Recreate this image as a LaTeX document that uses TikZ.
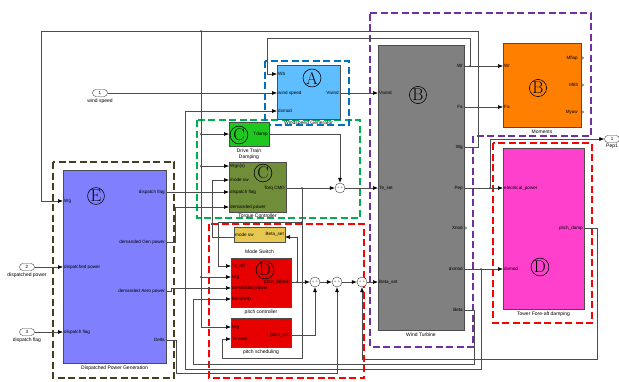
\documentclass[tikz,border=0pt]{standalone}
\usepackage{fontspec}
\setsansfont{Liberation Sans}
\usetikzlibrary{arrows.meta}
\definecolor{BlkBlue}{RGB}{95,190,255}
\definecolor{BlkGrey}{RGB}{128,128,128}
\definecolor{BlkOrange}{RGB}{255,128,0}
\definecolor{BlkPink}{RGB}{255,64,204}
\definecolor{BlkViolet}{RGB}{128,128,255}
\definecolor{BlkGreen}{RGB}{30,200,30}
\definecolor{BlkOlive}{RGB}{112,142,58}
\definecolor{BlkYellow}{RGB}{230,200,80}
\definecolor{BlkRed}{RGB}{230,0,0}
\definecolor{GrpBlue}{RGB}{0,112,192}
\definecolor{GrpViolet}{RGB}{112,48,160}
\definecolor{GrpGreen}{RGB}{0,176,80}
\definecolor{GrpRed}{RGB}{255,0,0}
\definecolor{GrpOlive}{RGB}{70,60,30}

\begin{document}
\begin{tikzpicture}[x=1pt,y=-1pt,
        blk/.style={draw=black!70,line width=0.6pt,inner sep=0pt,outer sep=0pt},
        grp/.style={dash pattern=on 7pt off 3.5pt,line width=2.4pt},
        pin/.style={font=\sffamily\fontsize{4.6}{4.6}\selectfont,inner sep=1pt},
        blkcap/.style={font=\sffamily\fontsize{5}{5.5}\selectfont,inner sep=0pt,align=center},
        wire/.style={draw=black!70,line width=0.6pt},
        arr/.style={wire,-{Latex[length=5pt,width=4pt,color=black]}},
        sumblk/.style={circle,draw=black!75,fill=white,minimum size=10pt,inner sep=0pt,font=\fontsize{3}{3}\selectfont},
        lbl/.style={circle,draw,line width=0.6pt,inner sep=0.4pt,font=\fontsize{17}{17}\selectfont},
        port/.style={draw=black!75,fill=white,rounded corners=3.5pt,minimum width=15pt,minimum height=7pt,inner sep=0pt,font=\sffamily\fontsize{4.5}{4.5}\selectfont},
        dot/.style={circle,fill=black!75,inner sep=0pt,minimum size=2pt}
    ]
    \useasboundingbox (0,0) rectangle (619,381);
    \fill[white] (0,0) rectangle (619,381);

    % --- Wiring ---
    \coordinate (j-wr) at (470,66);
    \coordinate (j-wg) at (201,31);
    \coordinate (j-tq) at (302,188);
    \coordinate (j-tr) at (302,222);
    \coordinate (j-fb) at (297,282);
    \coordinate (j-pe) at (490,188);
    \coordinate (j-dx) at (481,269);

    % --- Group frames (dashed) ---
    \draw[grp,GrpOlive] (53,162) rectangle (174,378);
    \draw[grp,GrpGreen] (197,120) rectangle (360,218);
    \draw[grp,GrpRed] (209,224) rectangle (364,378);
    \draw[grp,GrpBlue] (265,61) rectangle (349,125);
    \draw[grp,GrpViolet] (370,13) -- (591,13) -- (591,136) -- (473,136) -- (473,347) -- (370,347) -- cycle;
    \draw[grp,GrpRed] (493,143) rectangle (592,323);

    % --- Blocks ---
    \node[blk,fill=BlkBlue,minimum width=63pt,minimum height=54pt] (wsg) at (308.5,92) {};
    \node[blk,fill=BlkGrey,minimum width=86pt,minimum height=285pt] (wt) at (421,187.5) {};
    \node[blk,fill=BlkOrange,minimum width=78pt,minimum height=84pt] (mom) at (542,85) {};
    \node[blk,fill=BlkPink,minimum width=81pt,minimum height=161pt] (tfd) at (543.5,228.5) {};
    \node[blk,fill=BlkViolet,minimum width=103pt,minimum height=193pt] (dpg) at (114.5,266.5) {};
    \node[blk,fill=BlkGreen,minimum width=40pt,minimum height=24pt] (dtd) at (249,134) {};
    \node[blk,fill=BlkOlive,minimum width=57pt,minimum height=50pt] (tc) at (257.5,187) {};
    \node[blk,fill=BlkYellow,minimum width=51pt,minimum height=15pt] (ms) at (259.5,234.5) {};
    \node[blk,fill=BlkRed,minimum width=60pt,minimum height=49pt] (pc) at (261,282.5) {};
    \node[blk,fill=BlkRed,minimum width=60pt,minimum height=29pt] (ps) at (261,332.5) {};

    % Sums
    \node[sumblk] (s0) at (340,188) {+\,+};
    \node[sumblk] (s1) at (315,282) {+\,+};
    \node[sumblk] (s2) at (337,282) {+\,+};
    \node[sumblk] (s3) at (362,282) {+\,+};

    % In/out ports
    \node[port] (in1) at (100,93) {1};
    \node[blkcap,below=1.5pt] (in1-t) at (in1.south) {wind speed};
    \node[port] (in2) at (27,267) {2};
    \node[blkcap,below=1.5pt] (in2-t) at (in2.south) {dispatched power};
    \node[port] (in3) at (27,332) {3};
    \node[blkcap,below=1.5pt] (in3-t) at (in3.south) {dispatch flag};
    \node[port] (out1) at (612,139) {1};
    \node[blkcap,below=1.5pt] (out1-t) at (out1.south) {Pep1};

    % Port labels, left side
    \foreach \n/\y/\t in {wb/74/Wb, ws/93/wind speed, dx/111/dxmod}
        {\node[pin,anchor=west] at (277,\y) {\t}; \coordinate (wsg-\n) at (277,\y);}
    \foreach \n/\y/\t in {vw/93/Vwind, te/188/Te\_set, bs/282/Beta\_set}
        {\node[pin,anchor=west] at (378,\y) {\t}; \coordinate (wt-\n) at (378,\y);}
    \foreach \n/\y/\t in {wr/66/Wr, fa/107/Fa}
        {\node[pin,anchor=west] at (503,\y) {\t}; \coordinate (mom-\n) at (503,\y);}
    \foreach \n/\y/\t in {ep/188/electrical\_power, dx/269/dxmod}
        {\node[pin,anchor=west] at (503,\y) {\t}; \coordinate (tfd-\n) at (503,\y);}
    \foreach \n/\y/\t in {wg/201/Wg, dp/267/dispatched power, df/332/dispatch flag}
        {\node[pin,anchor=west] at (63,\y) {\t}; \coordinate (dpg-\n) at (63,\y);}
    \coordinate (dtd-in) at (229,134);
    \foreach \n/\y/\t in {wgn/166/Wgn(s), ms/180/mode sw, df/192/dispatch flag, dp/207/demanded power}
        {\node[pin,anchor=west] at (229,\y) {\t}; \coordinate (tc-\n) at (229,\y);}
    \foreach \n/\y/\t in {te/266/Te\_ref, wg/277/Wg, dp/288/demanded power, bt/299/beta(red)}
        {\node[pin,anchor=west] at (231,\y) {\t}; \coordinate (pc-\n) at (231,\y);}
    \foreach \n/\y/\t in {wg/327/Wg, te/339/Te cmd}
        {\node[pin,anchor=west] at (231,\y) {\t}; \coordinate (ps-\n) at (231,\y);}
    \node[pin,anchor=west] (ms-ms-t) at (234,234.5) {mode sw};
    \coordinate (ms-ms) at (234,237);

    % Port labels, right side
    \foreach \n/\y/\t in {vw/93/Vwind}
        {\node[pin,anchor=east] at (340,\y) {\t}; \coordinate (wsg-\n) at (340,\y);}
    \foreach \n/\y/\t in {wr/66/Wr, fa/107/Fa, wg/147/Wg, pe/188/Pep, xn/228/Xnod, dx/269/dxmod, bt/310/Beta}
        {\node[pin,anchor=east] at (464,\y) {\t}; \coordinate (wt-\n) at (464,\y);}
    \foreach \n/\y/\t in {mf/58/Mflap, mt/85/Mtilt, my/112/Myaw}
        {\node[pin,anchor=east] at (579,\y) {\t}; \coordinate (mom-\n) at (581,\y);}
    \foreach \n/\y/\t in {pd/228/pitch\_damp}
        {\node[pin,anchor=east] at (584,\y) {\t}; \coordinate (tfd-\n) at (584,\y);}
    \foreach \n/\y/\t in {fo/192/dispatch flag, gp/242/demanded Gen power, ap/291/demanded Aero power, dl/340/Delta}
        {\node[pin,anchor=east] at (166,\y) {\t}; \coordinate (dpg-\n) at (166,\y);}
    \node[pin,anchor=east] (dtd-td-t) at (269,134) {Tdamp};
    \coordinate (dtd-td) at (269,134);
    \node[pin,anchor=east] (tc-tq-t) at (286,188) {Torq CMD};
    \coordinate (tc-tq) at (286,188);
    \node[pin,anchor=east] (ms-bs-t) at (285,234.5) {Beta\_set};
    \coordinate (ms-bs) at (285,237);
    \node[pin,anchor=east] (pc-fb-t) at (291,282) {pitch\_fb(red)};
    \coordinate (pc-fb) at (291,282);
    \node[pin,anchor=east] (ps-sc-t) at (291,335) {pitch\_sch};
    \coordinate (ps-sc) at (291,335);

    % open output ports
    \foreach \c in {wt-xn, mom-mf, mom-mt, mom-my}
        \draw[black!75,line width=0.4pt] ([xshift=0.8pt,yshift=-1.5pt]\c) -- ([xshift=2.6pt]\c) -- ([xshift=0.8pt,yshift=1.5pt]\c);

    % Captions
    \node[blkcap] (wsg-c) at (308.5,123) {Windspeed Generator};
    \node[blkcap] (wt-c) at (421,335) {Wind Turbine};
    \node[blkcap] (mom-c) at (542,132) {Moments};
    \node[blkcap] (tfd-c) at (543.5,314) {Tower Fore-aft damping};
    \node[blkcap] (dpg-c) at (114.5,368) {Dispatched Power Generation};
    \node[blkcap] (dtd-c) at (249,154) {Drive Train\\[1pt]Damping};
    \node[blkcap] (tc-c) at (257.5,216) {Torque Controller};
    \node[blkcap] (ms-c) at (259.5,252) {Mode Switch};
    \node[blkcap] (pc-c) at (261,312) {pitch controller};
    \node[blkcap] (ps-c) at (261,352) {pitch scheduling};

    % Circled group letters
    \node[lbl] (la) at (312,78) {A};
    \node[lbl] (lb1) at (418,95) {B};
    \node[lbl] (lb2) at (538,88) {B};
    \node[lbl] (lc1) at (239,135) {C};
    \node[lbl] (lc2) at (263,173) {C};
    \node[lbl] (ld1) at (265,270) {D};
    \node[lbl] (ld2) at (540,267) {D};
    \node[lbl] (le) at (96,196) {E};

    % Connectors
    \draw[arr] (in1.east) -- (wsg-ws);
    \draw[arr] (wsg-vw) -- (wt-vw);
    \draw[arr] (wt-wr) -- (mom-wr);
    \draw[arr] (wt-fa) -- (mom-fa);
    \draw[arr] (j-wr) -- (470,38) -- (267,38) |- (wsg-wb);
    \draw[arr] (wt-wg) -| (478,31) -- (41,31) |- (dpg-wg);
    \draw[arr] (j-wg) |- (ps-wg);
    \foreach \t in {dtd-in, tc-wgn, pc-wg}
        {\draw[arr] (j-wg |- \t) -- (\t); \node[dot] at (j-wg |- \t) {};}
    \draw[arr] (dtd-td) -| (s0.north);
    \draw[arr] (tc-tq) -- (s0.west);
    \draw[arr] (s0.east) -- (wt-te);
    \draw[arr] (j-tq) |- (222,358) |- (ps-te);
    \draw[arr] (j-tr) -- (218,222) |- (pc-te);
    \draw[arr] (pc-fb) -- (s1.west);
    \draw[arr] (j-fb) |- (ms-bs);
    \draw[arr] (ps-sc) -| (s1.south);
    \draw[arr] (s1.east) -- (s2.west);
    \draw[arr] (s2.east) -- (s3.west);
    \draw[arr] (s3.east) -- (wt-bs);
    \draw[arr] (dpg-dl) -| (176,373) -| (s2.south);
    \draw[arr] (tfd-pd) -| (597,359) -| (s3.south);
    \draw[arr] (wt-bt) -| (474,364) -| (193,299) -- (pc-bt);
    \draw[arr] (wt-pe) -- (tfd-ep);
    \draw[arr] (j-pe) |- (out1.west);
    \draw[arr] (wt-dx) -- (tfd-dx);
    \draw[arr] (j-dx) -- (481,369) -| (185,111) -- (wsg-dx);
    \draw[arr] (in2.east) -- (dpg-dp);
    \draw[arr] (in3.east) -- (dpg-df);
    \draw[arr] (dpg-fo) -- (tc-df);
    \draw[arr] (dpg-gp) -- (175,242) |- (tc-dp);
    \draw[arr] (dpg-ap) -- (171,291) |- (pc-dp);
    \draw[arr] (ms-ms) -- (212,237) |- (tc-ms);

    % Junctions
    \foreach \j in {j-wr, j-wg, j-tq, j-tr, j-fb, j-pe, j-dx}
        \node[dot] at (\j) {};
\end{tikzpicture}
\end{document}
